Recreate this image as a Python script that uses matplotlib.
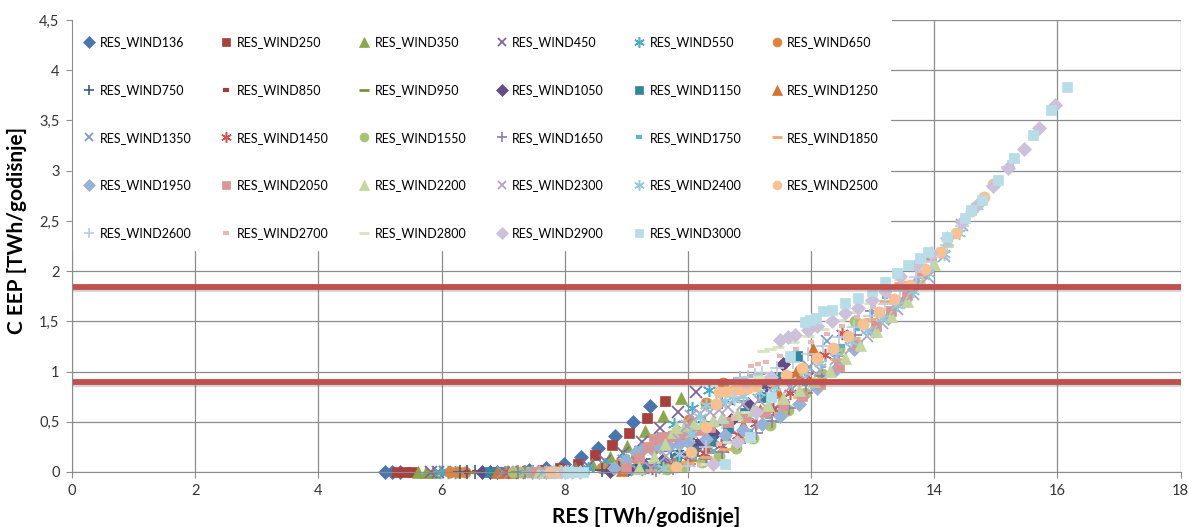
import matplotlib
matplotlib.use("Agg")
import matplotlib.pyplot as plt
import matplotlib.patheffects as pe
from matplotlib.patches import Rectangle
from matplotlib.ticker import FuncFormatter

plt.rcParams['font.family'] = ['Lato', 'DejaVu Sans']

# ---- data (RES [TWh], C EEP [TWh]) ----
x_136 = [5.08, 5.20, 5.32, 7.42, 7.70, 7.98, 8.26, 8.54, 8.82, 9.10, 9.38]
y_136 = [0, 0, 0, 0.02, 0.04, 0.08, 0.15, 0.24, 0.36, 0.50, 0.66]
x_250 = [5.28, 5.40, 5.52, 7.65, 7.93, 8.21, 8.49, 8.77, 9.05, 9.34, 9.63]
y_250 = [0, 0, 0, 0.02, 0.04, 0.08, 0.17, 0.27, 0.39, 0.54, 0.71]
x_350 = [5.62, 5.74, 5.86, 7.90, 8.17, 8.45, 8.73, 9.01, 9.31, 9.60, 9.89]
y_350 = [0, 0, 0, 0.02, 0.04, 0.08, 0.15, 0.26, 0.41, 0.56, 0.74]
x_450 = [5.82, 5.94, 6.06, 8.10, 8.38, 8.66, 8.95, 9.25, 9.55, 9.84, 10.13]
y_450 = [0, 0, 0, 0.03, 0.06, 0.11, 0.19, 0.30, 0.44, 0.60, 0.80]
x_550 = [5.98, 6.10, 6.22, 8.38, 8.66, 8.94, 9.22, 9.50, 9.78, 10.06, 10.34]
y_550 = [0, 0, 0, 0.04, 0.08, 0.14, 0.23, 0.34, 0.48, 0.64, 0.82]
x_650 = [6.14, 6.26, 6.38, 8.60, 8.88, 9.16, 9.44, 9.72, 10.01, 10.29, 10.57]
y_650 = [0, 0, 0, 0.04, 0.08, 0.14, 0.23, 0.36, 0.52, 0.69, 0.89]
x_750 = [6.30, 6.42, 6.54, 8.60, 8.88, 9.16, 9.44, 9.72, 10.00, 10.28, 10.56, 10.84]
y_750 = [0, 0, 0, 0.02, 0.04, 0.07, 0.13, 0.21, 0.33, 0.50, 0.70, 0.94]
x_850 = [6.42, 6.54, 6.66, 8.76, 9.04, 9.32, 9.60, 9.88, 10.16, 10.44, 10.72, 11.00]
y_850 = [0, 0, 0, 0.02, 0.04, 0.07, 0.12, 0.20, 0.31, 0.47, 0.69, 0.96]
x_950 = [6.54, 6.66, 6.78, 8.91, 9.19, 9.47, 9.75, 10.03, 10.31, 10.59, 10.87, 11.15]
y_950 = [0, 0, 0, 0.02, 0.04, 0.07, 0.12, 0.20, 0.31, 0.48, 0.71, 0.99]
x_1050 = [6.66, 6.78, 6.90, 8.74, 9.02, 9.30, 9.58, 9.86, 10.14, 10.42, 10.70, 10.98, 11.26, 11.54]
y_1050 = [0, 0, 0, 0.01, 0.03, 0.06, 0.11, 0.18, 0.27, 0.38, 0.52, 0.68, 0.87, 1.08]
x_1150 = [6.78, 6.90, 7.02, 8.97, 9.25, 9.53, 9.81, 10.09, 10.37, 10.65, 10.93, 11.21, 11.49, 11.77]
y_1150 = [0, 0, 0, 0.02, 0.04, 0.08, 0.13, 0.21, 0.31, 0.44, 0.59, 0.75, 0.95, 1.15]
x_1250 = [6.90, 7.02, 7.14, 8.93, 9.21, 9.49, 9.77, 10.05, 10.33, 10.61, 10.89, 11.17, 11.46, 11.75, 12.03]
y_1250 = [0, 0, 0, 0.02, 0.04, 0.07, 0.11, 0.17, 0.25, 0.35, 0.47, 0.62, 0.80, 1.00, 1.22]
x_1350 = [7.00, 7.12, 7.24, 9.17, 9.45, 9.73, 10.01, 10.29, 10.57, 10.85, 11.13, 11.41, 11.69, 11.97, 12.25]
y_1350 = [0, 0, 0, 0.02, 0.04, 0.07, 0.11, 0.17, 0.25, 0.35, 0.48, 0.64, 0.83, 1.05, 1.30]
x_1450 = [7.08, 7.20, 7.32, 9.42, 9.70, 9.98, 10.26, 10.54, 10.82, 11.10, 11.38, 11.66, 11.94, 12.22, 12.50]
y_1450 = [0, 0, 0, 0.04, 0.07, 0.12, 0.19, 0.27, 0.37, 0.49, 0.63, 0.79, 0.96, 1.16, 1.38]
x_1550 = [7.16, 7.28, 7.40, 9.66, 9.94, 10.22, 10.50, 10.78, 11.06, 11.34, 11.62, 11.90, 12.18, 12.45, 12.71]
y_1550 = [0, 0, 0, 0.03, 0.06, 0.10, 0.16, 0.24, 0.34, 0.47, 0.62, 0.79, 0.98, 1.22, 1.50]
x_1650 = [7.24, 7.36, 7.48, 9.48, 9.75, 10.02, 10.29, 10.56, 10.83, 11.10, 11.37, 11.64, 11.91, 12.18, 12.45, 12.72, 12.99]
y_1650 = [0, 0, 0, 0.02, 0.04, 0.08, 0.13, 0.20, 0.29, 0.39, 0.51, 0.64, 0.79, 0.96, 1.15, 1.36, 1.60]
x_1750 = [7.32, 7.44, 7.56, 9.20, 9.50, 9.80, 10.10, 10.40, 10.70, 11.00, 11.30, 11.60, 11.90, 12.20, 12.50, 12.75, 13.00, 13.20]
y_1750 = [0, 0, 0, 0.02, 0.05, 0.09, 0.14, 0.21, 0.30, 0.41, 0.55, 0.71, 0.88, 1.06, 1.25, 1.42, 1.59, 1.74]
x_1850 = [7.40, 7.52, 7.64, 9.40, 9.70, 10.00, 10.30, 10.60, 10.90, 11.20, 11.50, 11.80, 12.10, 12.40, 12.70, 12.95, 13.20, 13.45]
y_1850 = [0, 0, 0, 0.02, 0.05, 0.09, 0.15, 0.23, 0.33, 0.45, 0.59, 0.75, 0.93, 1.12, 1.33, 1.52, 1.70, 1.88]
x_1950 = [7.46, 7.58, 7.70, 8.80, 9.00, 9.15, 9.25, 9.40, 9.55, 9.70, 9.85, 10.00, 10.30, 10.60, 10.90,
          11.20, 11.50, 11.80, 12.10, 12.40, 12.70, 13.00, 13.25, 13.50, 13.70]
y_1950 = [0, 0, 0, 0.04, 0.12, 0.20, 0.22, 0.24, 0.25, 0.26, 0.28, 0.30, 0.33, 0.37, 0.42,
          0.48, 0.56, 0.68, 0.84, 1.03, 1.22, 1.40, 1.53, 1.70, 1.88]
x_2050 = [7.52, 7.64, 7.76, 9.00, 9.20, 9.35, 9.45, 9.60, 9.75, 9.90, 10.05, 10.20, 10.35, 10.65, 10.95,
          11.25, 11.55, 11.85, 12.15, 12.45, 12.75, 13.05, 13.30, 13.55, 13.80, 13.95]
y_2050 = [0, 0, 0, 0.04, 0.14, 0.25, 0.33, 0.35, 0.36, 0.38, 0.40, 0.42, 0.45, 0.50, 0.55,
          0.60, 0.67, 0.76, 0.88, 1.06, 1.26, 1.45, 1.60, 1.76, 1.98, 2.16]
x_2200 = [7.58, 7.70, 7.82, 9.20, 9.45, 9.62, 9.75, 9.80, 9.95, 10.10, 10.25, 10.40, 10.55, 10.80, 11.05,
          11.30, 11.55, 11.80, 12.05, 12.30, 12.55, 12.80, 13.05, 13.30, 13.55, 13.80, 14.00, 14.20]
y_2200 = [0, 0, 0, 0.04, 0.15, 0.28, 0.40, 0.45, 0.47, 0.49, 0.50, 0.52, 0.55, 0.58, 0.62,
          0.67, 0.74, 0.82, 0.91, 1.01, 1.13, 1.26, 1.40, 1.55, 1.70, 1.88, 2.07, 2.30]
x_2300 = [7.64, 7.76, 7.88, 9.40, 9.65, 9.85, 9.98, 10.05, 10.20, 10.35, 10.50, 10.65, 10.90, 11.15,
          11.40, 11.65, 11.90, 12.15, 12.40, 12.65, 12.90, 13.15, 13.40, 13.65, 13.90, 14.15, 14.45]
y_2300 = [0, 0, 0, 0.04, 0.16, 0.32, 0.46, 0.56, 0.58, 0.60, 0.62, 0.65, 0.68, 0.72,
          0.78, 0.85, 0.93, 1.02, 1.12, 1.23, 1.35, 1.48, 1.62, 1.77, 1.94, 2.15, 2.46]
x_2400 = [7.70, 7.82, 7.94, 9.60, 9.85, 10.05, 10.20, 10.30, 10.45, 10.60, 10.75, 10.90, 11.15, 11.40,
          11.65, 11.90, 12.15, 12.40, 12.65, 12.90, 13.15, 13.40, 13.65, 13.90, 14.15, 14.40, 14.70]
y_2400 = [0, 0, 0, 0.04, 0.18, 0.38, 0.55, 0.67, 0.69, 0.71, 0.73, 0.76, 0.80, 0.85,
          0.92, 1.00, 1.09, 1.19, 1.30, 1.41, 1.53, 1.66, 1.80, 1.98, 2.17, 2.38, 2.65]
x_2500 = [7.76, 7.88, 8.00, 9.80, 10.05, 10.30, 10.45, 10.50, 10.62, 10.74, 10.86, 10.98, 11.10, 11.35,
          11.60, 11.85, 12.10, 12.35, 12.60, 12.85, 13.10, 13.35, 13.60, 13.85, 14.10, 14.35, 14.60,
          14.80, 14.95]
y_2500 = [0, 0, 0, 0.05, 0.20, 0.45, 0.68, 0.80, 0.81, 0.82, 0.83, 0.84, 0.86, 0.91,
          0.97, 1.04, 1.13, 1.23, 1.35, 1.47, 1.59, 1.72, 1.86, 2.02, 2.19, 2.38, 2.60,
          2.74, 2.87]
x_2600 = [7.82, 7.94, 8.06, 10.00, 10.30, 10.55, 10.75, 10.85, 10.97, 11.09, 11.21, 11.45, 11.70,
          11.95, 12.20, 12.45, 12.70, 12.95, 13.20, 13.45, 13.70, 13.95, 14.20, 14.45, 14.70, 14.95, 15.20]
y_2600 = [0, 0, 0, 0.06, 0.25, 0.50, 0.75, 0.94, 0.95, 0.97, 0.99, 1.04, 1.10,
          1.17, 1.25, 1.34, 1.44, 1.55, 1.67, 1.80, 1.94, 2.09, 2.26, 2.45, 2.65, 2.85, 3.04]
x_2700 = [7.88, 8.00, 8.12, 10.20, 10.50, 10.75, 10.95, 11.02, 11.14, 11.26, 11.50, 11.75, 12.00,
          12.25, 12.50, 12.75, 13.00, 13.25, 13.50, 13.75, 14.00, 14.25, 14.50, 14.75, 15.00, 15.25, 15.45]
y_2700 = [0, 0, 0, 0.07, 0.28, 0.55, 0.85, 1.06, 1.08, 1.10, 1.15, 1.22, 1.29,
          1.37, 1.45, 1.54, 1.64, 1.75, 1.88, 2.00, 2.14, 2.30, 2.48, 2.68, 2.87, 3.07, 3.23]
x_2800 = [7.94, 8.06, 8.18, 10.30, 10.65, 10.95, 11.15, 11.22, 11.34, 11.46, 11.70, 11.95, 12.20,
          12.45, 12.70, 12.95, 13.20, 13.45, 13.70, 13.95, 14.20, 14.45, 14.70, 14.95, 15.20, 15.45, 15.70]
y_2800 = [0, 0, 0, 0.08, 0.30, 0.60, 0.95, 1.20, 1.22, 1.24, 1.29, 1.35, 1.42,
          1.51, 1.59, 1.68, 1.79, 1.92, 2.03, 2.16, 2.31, 2.47, 2.65, 2.84, 3.03, 3.22, 3.43]
x_2900 = [8.00, 8.12, 8.24, 10.40, 10.80, 11.10, 11.35, 11.50, 11.62, 11.74, 11.95, 12.10, 12.34,
          12.55, 12.76, 12.99, 13.20, 13.45, 13.70, 13.95, 14.20, 14.45, 14.70, 14.95, 15.20, 15.45,
          15.70, 15.96]
y_2900 = [0, 0, 0, 0.08, 0.30, 0.60, 0.95, 1.31, 1.34, 1.36, 1.41, 1.45, 1.50,
          1.58, 1.63, 1.71, 1.80, 1.95, 2.06, 2.18, 2.33, 2.49, 2.66, 2.85, 3.03, 3.22,
          3.42, 3.65]
x_3000 = [8.06, 8.18, 8.30, 10.60, 11.00, 11.35, 11.65, 11.90, 11.98, 12.08, 12.20, 12.34, 12.55,
          12.76, 12.99, 13.20, 13.39, 13.57, 13.77, 13.90, 14.20, 14.50, 14.60, 14.77, 15.03, 15.30,
          15.60, 15.90, 16.15]
y_3000 = [0, 0, 0, 0.08, 0.35, 0.75, 1.15, 1.49, 1.51, 1.53, 1.60, 1.61, 1.68,
          1.73, 1.80, 1.89, 1.98, 2.06, 2.13, 2.19, 2.34, 2.53, 2.61, 2.71, 2.91, 3.13,
          3.36, 3.60, 3.83]

wind = [136, 250, 350, 450, 550, 650, 750, 850, 950, 1050, 1150, 1250, 1350, 1450, 1550,
        1650, 1750, 1850, 1950, 2050, 2200, 2300, 2400, 2500, 2600, 2700, 2800, 2900, 3000]
xs = [x_136, x_250, x_350, x_450, x_550, x_650, x_750, x_850, x_950, x_1050, x_1150, x_1250,
      x_1350, x_1450, x_1550, x_1650, x_1750, x_1850, x_1950, x_2050, x_2200, x_2300, x_2400,
      x_2500, x_2600, x_2700, x_2800, x_2900, x_3000]
ys = [y_136, y_250, y_350, y_450, y_550, y_650, y_750, y_850, y_950, y_1050, y_1150, y_1250,
      y_1350, y_1450, y_1550, y_1650, y_1750, y_1850, y_1950, y_2050, y_2200, y_2300, y_2400,
      y_2500, y_2600, y_2700, y_2800, y_2900, y_3000]
limits = [0.9, 1.84]

colors = ['#4A76AE', '#A8403C', '#89A84C', '#8064A2', '#4BACC6', '#E0843C',
          '#385D8A', '#A03C39', '#77933C', '#644C85', '#31859C', '#D9732B',
          '#7F9DCB', '#CD5552', '#A6C46E', '#8E7CAD', '#5FB3CB', '#F5A766',
          '#95B3D7', '#D99694', '#C3D69B', '#B3A2C7', '#93CDDD', '#FAC090',
          '#B9CDE5', '#E6B9B8', '#D7E4BD', '#CCC1DA', '#B7DEE8']

ASTER = (6, 2, 0)
# marker, size, edge width (Excel cycle of 9 marker shapes)
mstyle = [('D', 7.5, 0.5), ('s', 7.5, 0.5), ('^', 8.5, 0.5), ('x', 8.0, 1.3), (ASTER, 9.5, 1.1),
          ('o', 8.0, 0.5), ('+', 9.5, 1.2), ('_', 5.0, 3.0), ('_', 9.0, 2.0)]

fig = plt.figure(figsize=(11.89, 5.27), dpi=100)
ax = fig.add_axes([0.0606, 0.1044, 0.9324, 0.8576])

handles = []
for i, w in enumerate(wind):
    m, ms, mew = mstyle[i % 9]
    h, = ax.plot(xs[i], ys[i], linestyle='none', marker=m, ms=ms, mew=mew,
                 color=colors[i], mec=colors[i], label='RES_WIND%d' % w, zorder=3,
                 clip_on=False)
    handles.append(h)

for v in limits:
    ax.axhline(v, color='#C0504D', lw=4.2, zorder=5,
               path_effects=[pe.SimpleLineShadow(offset=(0, -1.5), shadow_color='#808080', alpha=0.35),
                             pe.Normal()])

ax.set_xlim(0, 18)
ax.set_ylim(0, 4.5)
ax.set_xticks(range(0, 19, 2))
ax.set_yticks([0, 0.5, 1, 1.5, 2, 2.5, 3, 3.5, 4, 4.5])
ax.yaxis.set_major_formatter(FuncFormatter(lambda v, p: ('%g' % v).replace('.', ',')))
ax.grid(True, color='#8C8C8C', lw=0.9)
ax.set_axisbelow(True)
for s in ['top', 'right']:
    ax.spines[s].set_visible(False)
for s in ['left', 'bottom']:
    ax.spines[s].set_color('#8C8C8C')
    ax.spines[s].set_zorder(11)
ax.tick_params(direction='out', length=4, color='#8C8C8C', labelsize=10.5, labelcolor='#333333',
               pad=5)

ax.set_xlabel('RES [TWh/godišnje]', fontsize=15, fontweight='bold')
ax.set_ylabel('C EEP [TWh/godišnje]', fontsize=15, fontweight='bold')
ax.xaxis.set_label_coords(0.5176, -0.077)
ax.yaxis.set_label_coords(-0.041, 0.535)

# white strip above the legend (legend sits a little below the plot top)
ax.add_patch(Rectangle((0.0, 0.985), 0.74, 0.02, transform=ax.transAxes,
                       facecolor='white', edgecolor='none', zorder=9, clip_on=False))

# Excel fills the legend row by row, matplotlib column by column
order = [r * 6 + c for c in range(6) for r in range(5) if r * 6 + c < len(wind)]
leg = ax.legend([handles[k] for k in order], [handles[k].get_label() for k in order],
                ncol=6, loc='upper left', bbox_to_anchor=(0.0, 0.989), fontsize=9,
                frameon=True, facecolor='white', edgecolor='white', framealpha=1,
                labelspacing=2.86, columnspacing=2.36, handlelength=0.9, handletextpad=0.4,
                borderpad=0.9, borderaxespad=0.0, fancybox=False, markerscale=0.8)
leg.set_zorder(10)

fig.savefig('out.png', dpi=100)
